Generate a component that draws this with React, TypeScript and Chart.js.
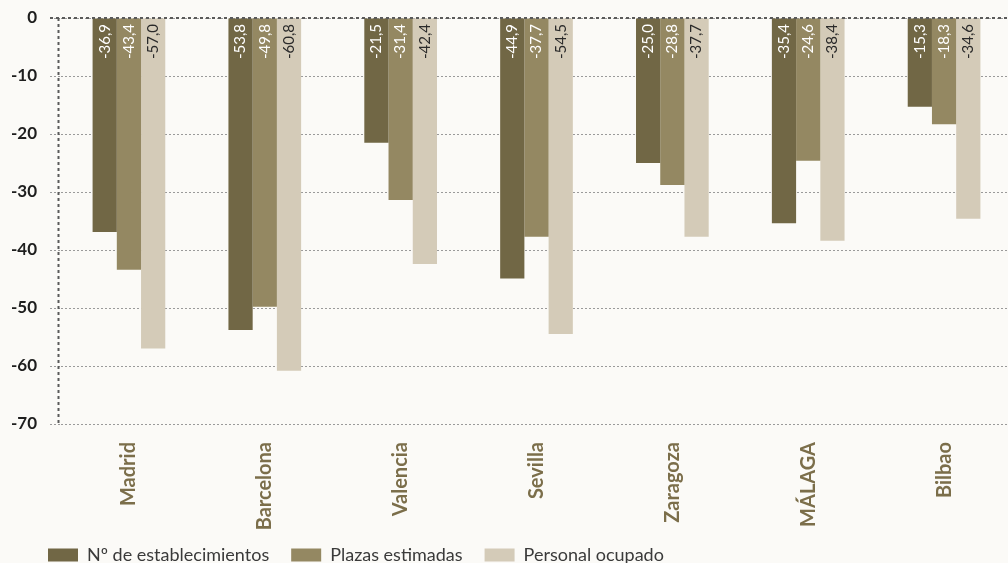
import React, { useEffect, useRef } from "react";
import { Chart, registerables } from "chart.js";

Chart.register(...registerables);

const categories = ["Madrid", "Barcelona", "Valencia", "Sevilla", "Zaragoza", "MÁLAGA", "Bilbao"];
const establecimientos = [-36.9, -53.8, -21.5, -44.9, -25.0, -35.4, -15.3];
const plazas = [-43.4, -49.8, -31.4, -37.7, -28.8, -24.6, -18.3];
const personal = [-57.0, -60.8, -42.4, -54.5, -37.7, -38.4, -34.6];
const seriesNames = ["Nº de establecimientos", "Plazas estimadas", "Personal ocupado"];
const seriesColors = ["#716745", "#948862", "#d4cbb8"];
const labelColors = ["#ffffff", "#ffffff", "#2a2a2a"];
const yMin = -70;
const yMax = 0;
const yStep = 10;

const FONT = "Lato, 'Open Sans', sans-serif";

const dataLabelPlugin = {
  id: "dataLabels",
  afterDatasetsDraw(chart: any) {
    const { ctx } = chart;
    const yScale = chart.scales.y;
    const zero = yScale.getPixelForValue(0);
    ctx.save();
    ctx.font = `15px ${FONT}`;
    chart.data.datasets.forEach((ds: any, di: number) => {
      const meta = chart.getDatasetMeta(di);
      meta.data.forEach((el: any, i: number) => {
        const v = ds.data[i] as number;
        const txt = v.toFixed(1).replace(".", ",");
        ctx.save();
        ctx.translate(el.x, zero + 6);
        ctx.rotate(-Math.PI / 2);
        ctx.textAlign = "right";
        ctx.textBaseline = "middle";
        ctx.fillStyle = labelColors[di];
        ctx.fillText(txt, 0, 0);
        ctx.restore();
      });
    });
    ctx.restore();
  },
};

const axisLinePlugin = {
  id: "axisLine",
  afterDatasetsDraw(chart: any) {
    const { ctx, chartArea } = chart;
    const yScale = chart.scales.y;
    const x = chartArea.left - 2.5;
    ctx.save();
    ctx.strokeStyle = "#5a5a5a";
    ctx.lineWidth = 2;
    ctx.setLineDash([3, 3]);
    ctx.beginPath();
    ctx.moveTo(x, yScale.getPixelForValue(yMax));
    ctx.lineTo(x, yScale.getPixelForValue(yMin) + 2);
    ctx.stroke();
    const y0 = yScale.getPixelForValue(0);
    ctx.beginPath();
    ctx.moveTo(chartArea.left - 11, y0);
    ctx.lineTo(chartArea.right, y0);
    ctx.stroke();
    ctx.restore();
  },
};

const legendShiftPlugin = {
  id: "legendShift",
  afterLayout(chart: any) {
    const lg = chart.legend;
    if (!lg) return;
    lg.left += 26;
    lg.right += 26;
    lg.top -= 9;
  },
};

export default function App() {
  const ref = useRef<HTMLCanvasElement | null>(null);

  useEffect(() => {
    if (!ref.current) return;
    const chart = new Chart(ref.current, {
      type: "bar",
      data: {
        labels: categories,
        datasets: [establecimientos, plazas, personal].map((d, i) => ({
          label: seriesNames[i],
          data: d,
          backgroundColor: seriesColors[i],
          borderWidth: 0,
          categoryPercentage: 0.535,
          barPercentage: 1,
        })),
      },
      options: {
        responsive: false,
        animation: false,
        layout: { padding: { top: 18, left: 0, right: 0, bottom: 0 } },
        scales: {
          x: {
            grid: { display: false, drawTicks: false },
            border: { display: false },
            ticks: {
              autoSkip: false,
              minRotation: 90,
              maxRotation: 90,
              padding: 18,
              color: "#7b6e4a",
              font: { family: FONT, size: 20, weight: "bold" },
            },
            afterFit(scale: any) {
              scale.height = 109;
              scale.paddingLeft = 0;
              scale.paddingRight = 0;
            },
          },
          y: {
            min: yMin,
            max: yMax,
            border: { display: false, dash: [2, 2] },
            grid: {
              color: "#9a9a9a",
              lineWidth: 1,
              tickLength: 11,
              tickBorderDash: [2, 2],
              tickColor: "#9a9a9a",
            },
            ticks: {
              stepSize: yStep,
              padding: 13,
              color: "#1e1e1e",
              font: { family: FONT, size: 17, weight: "bold" },
            },
            afterFit(scale: any) {
              scale.width = 61;
              scale.paddingTop = 0;
              scale.paddingBottom = 0;
            },
          },
        },
        plugins: {
          legend: {
            position: "bottom",
            align: "start",
            maxHeight: 30,
            labels: {
              boxWidth: 30,
              boxHeight: 13,
              padding: 22,
              color: "#3a3a3a",
              font: { family: FONT, size: 18 },
            },
          },
          tooltip: { enabled: false },
        },
      },
      plugins: [dataLabelPlugin, axisLinePlugin, legendShiftPlugin],
    });
    return () => chart.destroy();
  }, []);

  return (
    <div
      style={{
        position: "absolute",
        left: 0,
        top: 0,
        width: 1008,
        height: 563,
        overflow: "hidden",
        background: "#fbfaf7",
      }}
    >
      <canvas ref={ref} width={1012} height={563} style={{ display: "block" }} />
    </div>
  );
}
